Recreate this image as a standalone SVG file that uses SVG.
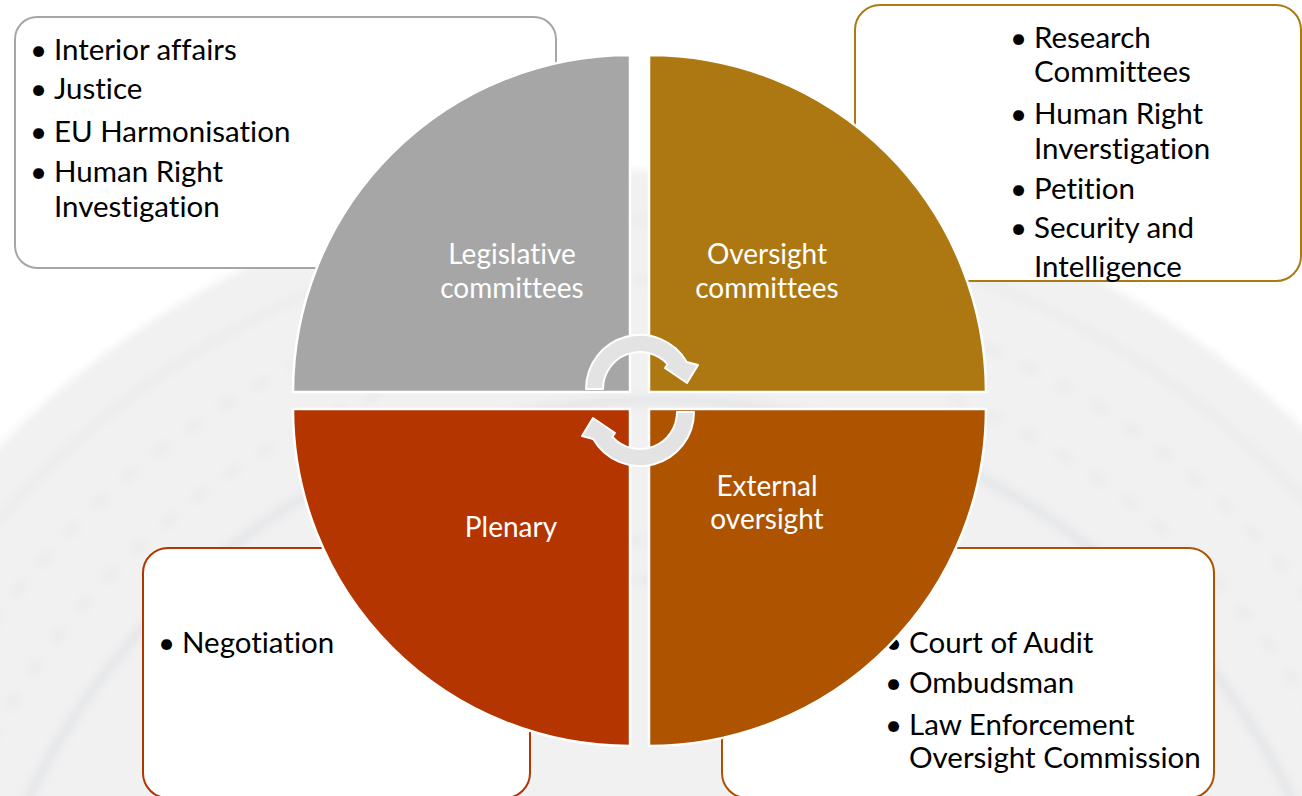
<svg xmlns="http://www.w3.org/2000/svg" width="1302" height="796" viewBox="0 0 1302 796">
  <defs>
    <style>
      text { font-variant-ligatures: none; }
      .box { fill: #ffffff; stroke-width: 2; }
      .item { font-family: Lato, "Open Sans", sans-serif; font-size: 29.5px; fill: #000000; }
      .label { font-family: Lato, "Open Sans", sans-serif; font-size: 28px; fill: #ffffff; text-anchor: middle; }
      .quad { stroke: #ffffff; stroke-width: 2.5; }
      .cycle { fill: #e3e3e3; stroke: #ffffff; stroke-width: 2; stroke-linejoin: round; }
      .seat { fill: none; stroke: #e4e5e7; }
    </style>
    <filter id="soft" x="-10%" y="-10%" width="120%" height="120%">
      <feGaussianBlur stdDeviation="4"/>
    </filter>
  </defs>

  <!-- faint chamber backdrop -->
  <rect width="1302" height="796" fill="#ffffff"/>
  <g id="backdrop" filter="url(#soft)">
    <circle cx="660" cy="1100" r="930" fill="#f1f1f2"/>
    <circle class="seat" cx="660" cy="1100" r="880" stroke-width="3"/>
    <circle class="seat" cx="660" cy="1100" r="820" stroke-width="5" stroke-dasharray="14 26"/>
    <circle class="seat" cx="660" cy="1100" r="760" stroke-width="5" stroke-dasharray="14 26"/>
    <circle class="seat" cx="660" cy="1100" r="700" stroke-width="9"/>
    <circle class="seat" cx="660" cy="1100" r="560" stroke-width="7" stroke-dasharray="10 8"/>
    <circle class="seat" cx="660" cy="1100" r="520" stroke-width="7" stroke-dasharray="10 8"/>
  </g>

  <!-- detail boxes -->
  <g id="box-legislative">
    <rect class="box" x="15" y="17" width="541" height="251" rx="22" stroke="#a6a6a6"/>
    <text class="item" x="30" y="60">•</text><text class="item" x="54" y="60">Interior affairs</text>
    <text class="item" x="30" y="99">•</text><text class="item" x="54" y="99">Justice</text>
    <text class="item" x="30" y="142">•</text><text class="item" x="54" y="142">EU Harmonisation</text>
    <text class="item" x="30" y="182">•</text><text class="item" x="54" y="182">Human Right</text>
    <text class="item" x="54" y="217">Investigation</text>
  </g>

  <g id="box-oversight">
    <rect class="box" x="855" y="5" width="446" height="276" rx="25" stroke="#ad7a12"/>
    <text class="item" x="1010" y="48">•</text><text class="item" x="1034" y="48">Research</text>
    <text class="item" x="1034" y="82">Committees</text>
    <text class="item" x="1010" y="124">•</text><text class="item" x="1034" y="124">Human Right</text>
    <text class="item" x="1034" y="159">Inverstigation</text>
    <text class="item" x="1010" y="199">•</text><text class="item" x="1034" y="199">Petition</text>
    <text class="item" x="1010" y="238">•</text><text class="item" x="1034" y="238">Security and</text>
    <text class="item" x="1034" y="277">Intelligence</text>
  </g>

  <g id="box-plenary">
    <rect class="box" x="143" y="548" width="387" height="250" rx="25" stroke="#b33500"/>
    <text class="item" x="158" y="653">•</text><text class="item" x="182" y="653">Negotiation</text>
  </g>

  <g id="box-external">
    <rect class="box" x="722" y="548" width="492" height="250" rx="25" stroke="#ae5200"/>
    <text class="item" x="885" y="653">•</text><text class="item" x="909" y="653">Court of Audit</text>
    <text class="item" x="885" y="693">•</text><text class="item" x="909" y="693">Ombudsman</text>
    <text class="item" x="885" y="735">•</text><text class="item" x="909" y="735">Law Enforcement</text>
    <text class="item" x="909" y="768">Oversight Commission</text>
  </g>

  <!-- four quadrants of the cycle -->
  <g id="q-legislative">
    <path class="quad" fill="#a6a6a6" d="M630,392 L293,392 A337,337 0 0 1 630,55 Z"/>
    <text class="label" x="512" y="264">Legislative</text>
    <text class="label" x="512" y="298">committees</text>
  </g>
  <g id="q-oversight">
    <path class="quad" fill="#ad7811" d="M649,392 L649,55 A337,337 0 0 1 986,392 Z"/>
    <text class="label" x="767" y="264">Oversight</text>
    <text class="label" x="767" y="298">committees</text>
  </g>
  <g id="q-plenary">
    <path class="quad" fill="#b43500" d="M630,409 L293,409 A337,337 0 0 0 630,746 Z"/>
    <text class="label" x="511" y="537">Plenary</text>
  </g>
  <g id="q-external">
    <path class="quad" fill="#ae5300" d="M649,409 L986,409 A337,337 0 0 1 649,746 Z"/>
    <text class="label" x="767" y="496">External</text>
    <text class="label" x="767" y="529">oversight</text>
  </g>

  <!-- circular arrows in the centre -->
  <g id="connectors">
    <path class="cycle" d="M586,389 A54,54 0 0 1 686.8,362 L698,365 L687,383 L665,368 L667.5,364.2 A37,37 0 0 0 603,389 Z"/>
    <path class="cycle" transform="rotate(180 640 400.5)" d="M586,389 A54,54 0 0 1 686.8,362 L698,365 L687,383 L665,368 L667.5,364.2 A37,37 0 0 0 603,389 Z"/>
  </g>
</svg>
